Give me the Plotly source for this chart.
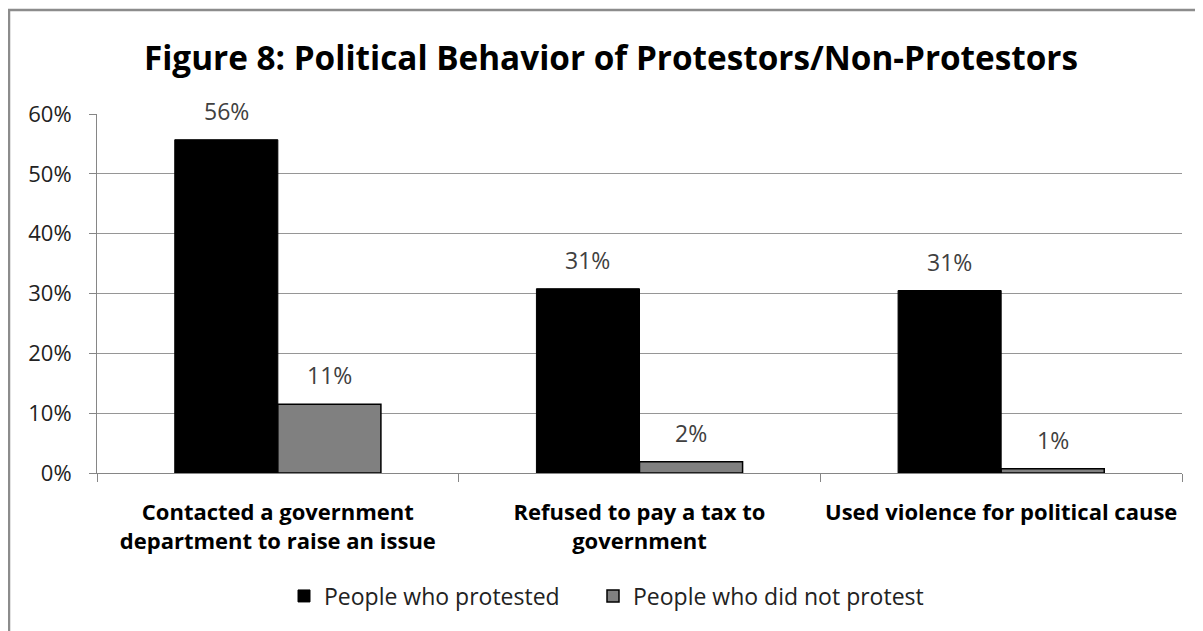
import plotly.graph_objects as go

categories = ["Contacted a government<br>department to raise an issue",
              "Refused to pay a tax to<br>government",
              "Used violence for political cause"]
protested = [55.7, 30.8, 30.5]
not_protested = [11.5, 1.9, 0.7]
protested_labels = ["56%", "31%", "31%"]
not_protested_labels = ["11%", "2%", "1%"]
series_names = ["People who protested", "People who did not protest"]
tick_vals = [0, 10, 20, 30, 40, 50, 60]
tick_text = ["0%", "10%", "20%", "30%", "40%", "50%", "60%"]

FONT = "Open Sans"
bargap = 0.43
bar_w = (1 - bargap) / 2

# The page body adds an 8px offset, so the figure is sized to fit inside the window.
W, H = 1195, 623

fig = go.Figure()
fig.add_trace(go.Bar(x=categories, y=protested, name=series_names[0], legend="legend",
                     marker=dict(color="#000000", line=dict(color="#000000", width=1))))
fig.add_trace(go.Bar(x=categories, y=not_protested, name=series_names[1], legend="legend2",
                     marker=dict(color="#808080", line=dict(color="#000000", width=1.5))))

annotations = []
for i, (v, t) in enumerate(zip(protested, protested_labels)):
    annotations.append(dict(x=i - bar_w / 2, y=v, text=t, showarrow=False,
                            yanchor="bottom", yshift=11,
                            font=dict(family=FONT, size=23, color="#404040")))
for i, (v, t) in enumerate(zip(not_protested, not_protested_labels)):
    annotations.append(dict(x=i + bar_w / 2, y=v, text=t, showarrow=False,
                            yanchor="bottom", yshift=11,
                            font=dict(family=FONT, size=23, color="#404040")))

legend_style = dict(orientation="h", xref="container", xanchor="left",
                    y=1 - 588 / H, yref="container", yanchor="middle",
                    font=dict(family=FONT, size=23, color="#222222"),
                    itemwidth=30, bgcolor="rgba(0,0,0,0)")

fig.update_layout(
    width=W, height=H,
    margin=dict(l=89, r=21, t=106, b=158),
    paper_bgcolor="white", plot_bgcolor="white",
    barmode="group", bargap=bargap, bargroupgap=0,
    title=dict(text="<b>Figure 8: Political Behavior of Protestors/Non-Protestors</b>",
               x=(611 - 8) / W, xref="container", xanchor="center",
               y=1 - 50.5 / H, yref="container", yanchor="middle",
               font=dict(family=FONT, size=33.3, color="#000000")),
    annotations=annotations,
    showlegend=True,
    legend=dict(x=(284 - 8) / W, **legend_style),
    legend2=dict(x=(593 - 8) / W, **legend_style),
    xaxis=dict(type="category", showline=True, linecolor="#868686", linewidth=1,
               ticks="outside", tickson="boundaries", ticklen=8, tickcolor="#868686",
               tickfont=dict(family=FONT, size=22, color="#000000"),
               ticklabelstandoff=20, showgrid=False),
    yaxis=dict(range=[0, 60], tickvals=tick_vals, ticktext=tick_text,
               showline=True, linecolor="#868686", linewidth=1,
               ticks="outside", ticklen=7, tickcolor="#868686",
               showgrid=True, gridcolor="#969696", gridwidth=1,
               tickfont=dict(family=FONT, size=22, color="#222222"),
               ticklabelstandoff=13, zeroline=False),
)
fig.update_xaxes(tickprefix="<b>", ticksuffix="</b>")

# chart-area border (its right and bottom edges lie beyond the window)
fig.add_shape(type="rect", xref="paper", yref="paper",
              x0=(9 - 97) / 1085, x1=1.03, y0=-0.47, y1=(473 - 10) / 359,
              line=dict(color="#8c8c8c", width=2.5), fillcolor="rgba(0,0,0,0)", layer="above")

fig.write_html("out.html")
